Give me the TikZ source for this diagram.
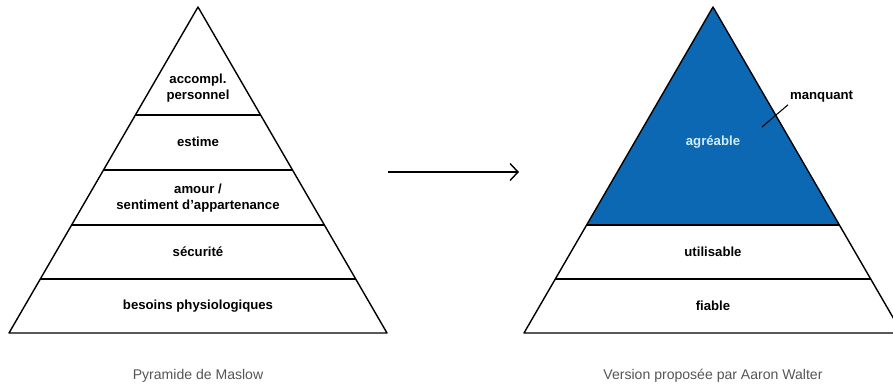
\documentclass[tikz,border=0pt]{standalone}
\usepackage{fontspec}
\setmainfont{Liberation Sans}
\usetikzlibrary{arrows.meta,calc}
\definecolor{topblue}{HTML}{0C68B2}
\definecolor{paleblue}{HTML}{D2ECFF}
\definecolor{capgray}{HTML}{555555}
\begin{document}
\begin{tikzpicture}[x=0.02cm,y=-0.02cm,line join=round,
  every node/.style={font=\fontsize{7.5}{9}\selectfont\bfseries,align=center},
  caption/.style={font=\fontsize{8}{10}\selectfont,text=capgray},
  edge/.style={line width=.8pt}]
\useasboundingbox (0,0) rectangle (893,387);
% Maslow pyramid
\coordinate (m0) at (198,7);
\coordinate (m1) at (9,333);
\coordinate (m2) at (387,333);
\draw[edge] (m0)--(m1)--(m2)--cycle;
\foreach \t in {0.331,0.5,0.669,0.834}
  \draw[edge] ($(m0)!\t!(m1)$)--($(m0)!\t!(m2)$);
\node (accompl) at (198,88) {accompl.\\personnel};
\node (estime) at (198,142) {estime};
\node (amour) at (198,198) {amour /\\sentiment d'appartenance};
\node (secu) at (198,252) {sécurité};
\node (besoins) at (198,306) {besoins physiologiques};
\node[caption] (maslow) at (198,376) {Pyramide de Maslow};
% arrow
\coordinate (a0) at (388,172);
\coordinate (a1) at (519,172);
\draw[edge,-{Straight Barb[length=1.6mm,width=3.4mm]}] (a0)--(a1);
% Walter pyramid
\coordinate (w0) at (713,7);
\coordinate (w1) at (524,333);
\coordinate (w2) at (902,333);
\fill[topblue] (w0)--($(w0)!0.669!(w1)$)--($(w0)!0.669!(w2)$)--cycle;
\draw[edge] (w0)--(w1)--(w2)--cycle;
\foreach \t in {0.669,0.834}
  \draw[edge] ($(w0)!\t!(w1)$)--($(w0)!\t!(w2)$);
\node[text=paleblue] (agreable) at (713,142) {agréable};
\node (utile) at (713,252) {utilisable};
\node (fiable) at (713,306) {fiable};
\node[anchor=west,inner sep=1pt] (manquant) at (788,97) {manquant};
\coordinate (miss) at (762,127);
\draw[line width=.6pt] (miss)--(manquant.south west);
\node[caption] (walter) at (713,376) {Version proposée par Aaron Walter};
\end{tikzpicture}
\end{document}
